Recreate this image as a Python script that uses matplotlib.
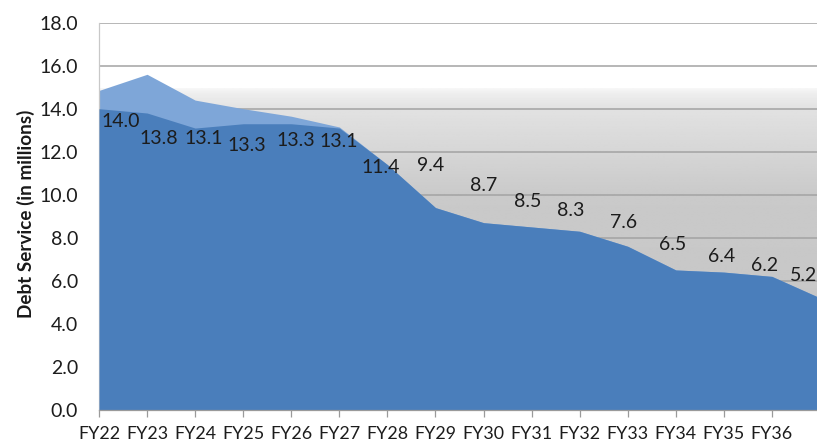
import numpy as np
import matplotlib
matplotlib.use("Agg")
import matplotlib.pyplot as plt

# Fiscal years and annual debt service (in millions)
years = ["FY22", "FY23", "FY24", "FY25", "FY26", "FY27", "FY28", "FY29",
         "FY30", "FY31", "FY32", "FY33", "FY34", "FY35", "FY36", "FY37"]
debt_service = [14.0, 13.8, 13.1, 13.3, 13.3, 13.1, 11.4, 9.4,
                8.7, 8.5, 8.3, 7.6, 6.5, 6.4, 6.2, 5.2]
total_service = [14.85, 15.6, 14.4, 14.0, 13.65, 13.15, 11.4, 9.4,
                 8.7, 8.5, 8.3, 7.6, 6.5, 6.4, 6.2, 5.2]
y_ticks = [0, 2, 4, 6, 8, 10, 12, 14, 16, 18]

# label placement relative to each point (pixels, x right / y up)
label_offsets = [(22, -13), (12, -25), (9, -10), (4, -22), (5, -17), (-1, -13),
                 (-7, -3), (-5, 42), (0, 37), (-4, 25), (-9, 21), (-4, 24),
                 (-3, 25), (-2, 16), (-7, 11), (-16, 22)]

plt.rcParams["font.family"] = ["Lato", "DejaVu Sans"]

W, H = 817, 447
fig = plt.figure(figsize=(W / 100, H / 100), dpi=100)
ax = fig.add_axes([99 / W, (H - 409.7) / H, 721 / W, 387 / H])

x = np.arange(len(years))
n_shown = 15

# shaded band behind the areas
band_top = 14.95
ys = np.linspace(band_top, 0, 200)
shade = np.interp(ys, [0, 10, 12, 14, 14.7, band_top], [0.77, 0.79, 0.84, 0.885, 0.93, 0.965])
img = np.repeat(shade[:, None], 2, axis=1)
ax.imshow(img, extent=(0, 15, 0, band_top), aspect="auto", cmap="gray",
          vmin=0, vmax=1, zorder=0, interpolation="bilinear")

ax.fill_between(x, 0, total_service, color="#7EA6D8", lw=0, zorder=2)
ax.fill_between(x, 0, debt_service, color="#4A7EBB", lw=0, zorder=3)

for xi, v, (dx, dy) in zip(x, debt_service, label_offsets):
    ax.annotate(f"{v:.1f}", (xi, v), xytext=(dx, dy), textcoords="offset pixels",
                ha="center", va="center", fontsize=14, color="#1c1c1c", zorder=5)

ax.set_xlim(0, 15)
ax.set_ylim(0, 18)
ax.set_yticks(y_ticks)
ax.set_yticklabels([f"{t:.1f}" for t in y_ticks])
ax.set_xticks(x[:n_shown])
ax.set_xticklabels(years[:n_shown])

ax.yaxis.grid(True, color="#a3a3a3", lw=1.1)
ax.set_axisbelow(True)
for gl in ax.get_ygridlines():
    gl.set_zorder(1)

ax.tick_params(axis="y", length=0, pad=15, labelsize=14, labelcolor="#1c1c1c")
ax.tick_params(axis="x", length=5, width=0.9, color="#9a9a9a", pad=7,
               labelsize=12.9, labelcolor="#1c1c1c")

for s in ("top", "right"):
    ax.spines[s].set_visible(False)
ax.spines["left"].set_color("#c8c8c8")
ax.spines["left"].set_linewidth(0.9)
ax.spines["bottom"].set_color("#9a9a9a")
ax.spines["bottom"].set_linewidth(0.9)
ax.spines["bottom"].set_zorder(4)

ax.set_ylabel("Debt Service (in millions)", fontsize=13.6, fontweight="bold",
              color="#1a1a1a")
ax.yaxis.set_label_coords(-0.089, 0.507)

fig.savefig("out.png", dpi=100)
